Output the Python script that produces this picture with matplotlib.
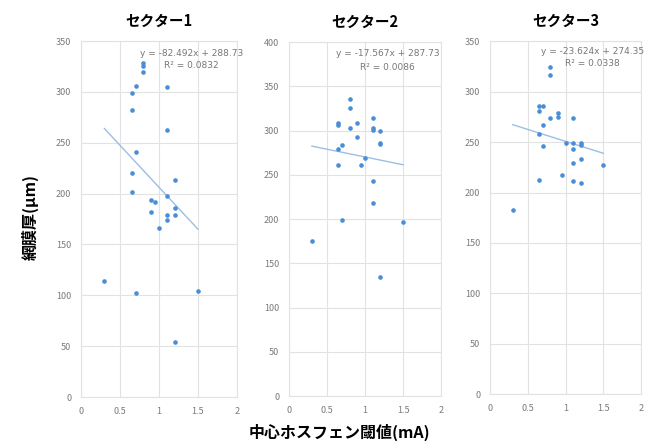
import matplotlib
matplotlib.use("Agg")
import matplotlib.pyplot as plt
import numpy as np

plt.rcParams['font.family'] = ['Noto Sans CJK JP', 'DejaVu Sans']

# Data
sector_titles = ['セクター1', 'セクター2', 'セクター3']

x1 = [0.3, 0.65, 0.65, 0.65, 0.65, 0.7, 0.7, 0.7, 0.8, 0.8, 0.8, 0.9, 0.95, 0.9,
      1.0, 1.1, 1.1, 1.1, 1.1, 1.1, 1.2, 1.2, 1.2, 1.2, 1.5]
y1 = [114, 299, 282, 220, 202, 306, 241, 102, 328, 325, 320, 194, 192, 182,
      166, 305, 263, 198, 179, 174, 213, 186, 179, 54, 104]

x2 = [0.3, 0.65, 0.65, 0.65, 0.65, 0.7, 0.7, 0.8, 0.8, 0.8, 0.9, 0.9, 0.95, 1.0,
      1.1, 1.1, 1.1, 1.1, 1.1, 1.2, 1.2, 1.2, 1.2, 1.5]
y2 = [175, 308, 306, 279, 261, 284, 199, 336, 325, 303, 308, 293, 261, 269,
      314, 303, 301, 243, 218, 299, 286, 285, 134, 197]

x3 = [0.3, 0.65, 0.7, 0.65, 0.7, 0.8, 0.9, 0.9, 1.1, 0.65, 0.7, 1.0, 1.1, 1.1,
      1.2, 1.2, 1.2, 1.1, 1.5, 0.95, 0.65, 1.1, 1.2, 0.8, 0.8]
y3 = [183, 286, 286, 281, 267, 274, 279, 275, 274, 258, 246, 249, 249, 243,
      249, 247, 233, 229, 227, 217, 212, 211, 209, 324, 316]

slopes = [-82.492, -17.567, -23.624]
intercepts = [288.73, 287.73, 274.35]
eq_labels = ['y = -82.492x + 288.73', 'y = -17.567x + 287.73', 'y = -23.624x + 274.35']
r2_labels = ['R² = 0.0832', 'R² = 0.0086', 'R² = 0.0338']
y_max = [350, 400, 350]

xs = [x1, x2, x3]
ys = [y1, y2, y3]

fig = plt.figure(figsize=(6.51, 4.43), dpi=100)

# axes boxes in figure fractions
boxes = [[0.1244, 0.1038, 0.2396, 0.8036],
         [0.4440, 0.1060, 0.2335, 0.7990],
         [0.7527, 0.1100, 0.2320, 0.7970]]
eq_pos = [(0.71, 0.966, 0.93), (0.65, 0.969, 0.927), (0.68, 0.972, 0.937)]

grid_c = '#e2e2e2'
dot_c = '#4a8fd6'
trend_c = '#9bbfe3'
tick_c = '#7a7a7a'

for i in range(3):
    ax = fig.add_axes(boxes[i])
    x = np.array(xs[i])
    y = np.array(ys[i])
    ax.scatter(x, y, s=11, color=dot_c, zorder=3, linewidths=0)

    # trendline from the Excel equation, across the data range
    xt = np.array([x.min(), x.max()])
    ax.plot(xt, slopes[i] * xt + intercepts[i], color=trend_c, lw=1.0, zorder=2)

    ax.set_xlim(0, 2)
    ax.set_ylim(0, y_max[i])
    ax.set_xticks([0, 0.5, 1, 1.5, 2])
    ax.set_xticklabels(['0', '0.5', '1', '1.5', '2'])
    ax.set_yticks(np.arange(0, y_max[i] + 1, 50))
    ax.tick_params(length=0, labelsize=6.5, colors=tick_c, pad=7)
    ax.grid(True, color=grid_c, lw=0.8)
    ax.set_axisbelow(True)
    for s in ax.spines.values():
        s.set_color(grid_c)
        s.set_linewidth(0.8)

    ax.set_title(sector_titles[i], fontsize=10.5, fontweight='bold', pad=11)

    cx, ey, ry = eq_pos[i]
    ax.text(cx, ey, eq_labels[i], transform=ax.transAxes, ha='center', va='center',
            fontsize=6.5, color='#777777', family=['DejaVu Sans'])
    ax.text(cx, ry, r2_labels[i], transform=ax.transAxes, ha='center', va='center',
            fontsize=6.5, color='#777777', family=['DejaVu Sans'])

fig.text(0.047, 0.51, '網膜厚(μm)', rotation=90, ha='center', va='center',
         fontsize=11.5, fontweight='bold')
fig.text(0.522, 0.025, '中心ホスフェン閾値(mA)', ha='center', va='center',
         fontsize=11.5, fontweight='bold')

fig.savefig('out.png', dpi=100)
